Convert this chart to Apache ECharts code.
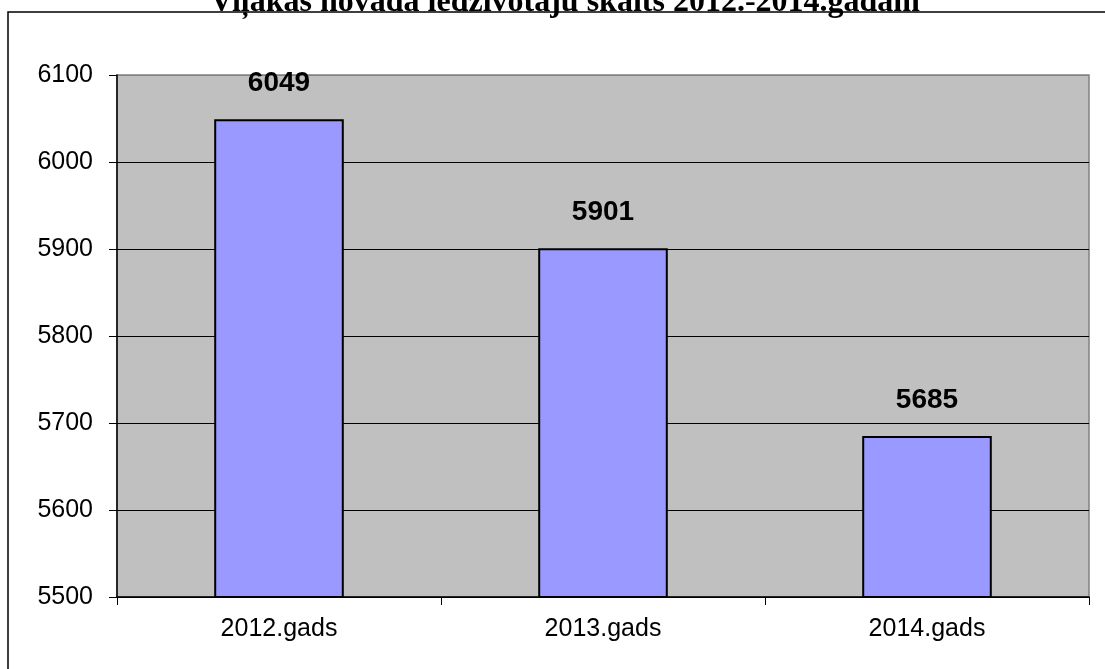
<!DOCTYPE html>
<html>
<head>
<meta charset="utf-8">
<script src="https://cdn.jsdelivr.net/npm/echarts@6/dist/echarts.min.js"></script>
<style>html,body{margin:0;padding:0;background:#fff;}#c{width:1105px;height:669px;}</style>
</head>
<body>
<div id="c"></div>
<script>
const titleText = 'Viļakas novada iedzīvotāju skaits 2012.-2014.gadam';
const categories = ['2012.gads', '2013.gads', '2014.gads'];
const population = [6049, 5901, 5685];
const yMin = 5500, yMax = 6100, yStep = 100;

const chart = echarts.init(document.getElementById('c'));
chart.setOption({
  animation: false,
  backgroundColor: '#ffffff',
  graphic: [
    { type: 'rect', shape: { x: 8, y: 12, width: 1110, height: 680 }, style: { fill: 'none', stroke: '#000', lineWidth: 1.5 }, z: 0 },
    { type: 'text', x: 565, y: 19, style: { text: titleText, align: 'center', verticalAlign: 'bottom', font: 'bold 32px "Liberation Serif", "Times New Roman", serif', fill: '#000' }, z: 10 }
  ],
  grid: { left: 117, top: 75, right: 16, bottom: 72, show: true, backgroundColor: '#c0c0c0', borderColor: '#808080', borderWidth: 1.5 },
  xAxis: {
    type: 'category',
    data: categories,
    axisLine: { lineStyle: { color: '#000', width: 1.5 } },
    axisTick: { show: true, length: 8, lineStyle: { color: '#000' } },
    axisLabel: { color: '#000', fontFamily: '"Liberation Sans", Arial, sans-serif', fontSize: 25, margin: 20 }
  },
  yAxis: {
    type: 'value',
    min: yMin, max: yMax, interval: yStep,
    axisLine: { show: true, lineStyle: { color: '#000', width: 1.5 } },
    axisTick: { show: true, length: 8, lineStyle: { color: '#000' } },
    axisLabel: { color: '#000', fontFamily: '"Liberation Sans", Arial, sans-serif', fontSize: 25, margin: 24, formatter: v => String(v) },
    splitLine: { show: true, lineStyle: { color: ['#000', '#000', '#000', '#000', '#000', '#000', '#808080'], width: 1 } }
  },
  series: [{
    type: 'bar',
    data: population,
    barWidth: '40%',
    itemStyle: { color: '#9999ff', borderColor: '#000', borderWidth: 2 },
    label: { show: true, position: 'top', distance: 22, color: '#000', fontWeight: 'bold', fontSize: 28, fontFamily: '"Liberation Sans", Arial, sans-serif' }
  }]
});
</script>
</body>
</html>
